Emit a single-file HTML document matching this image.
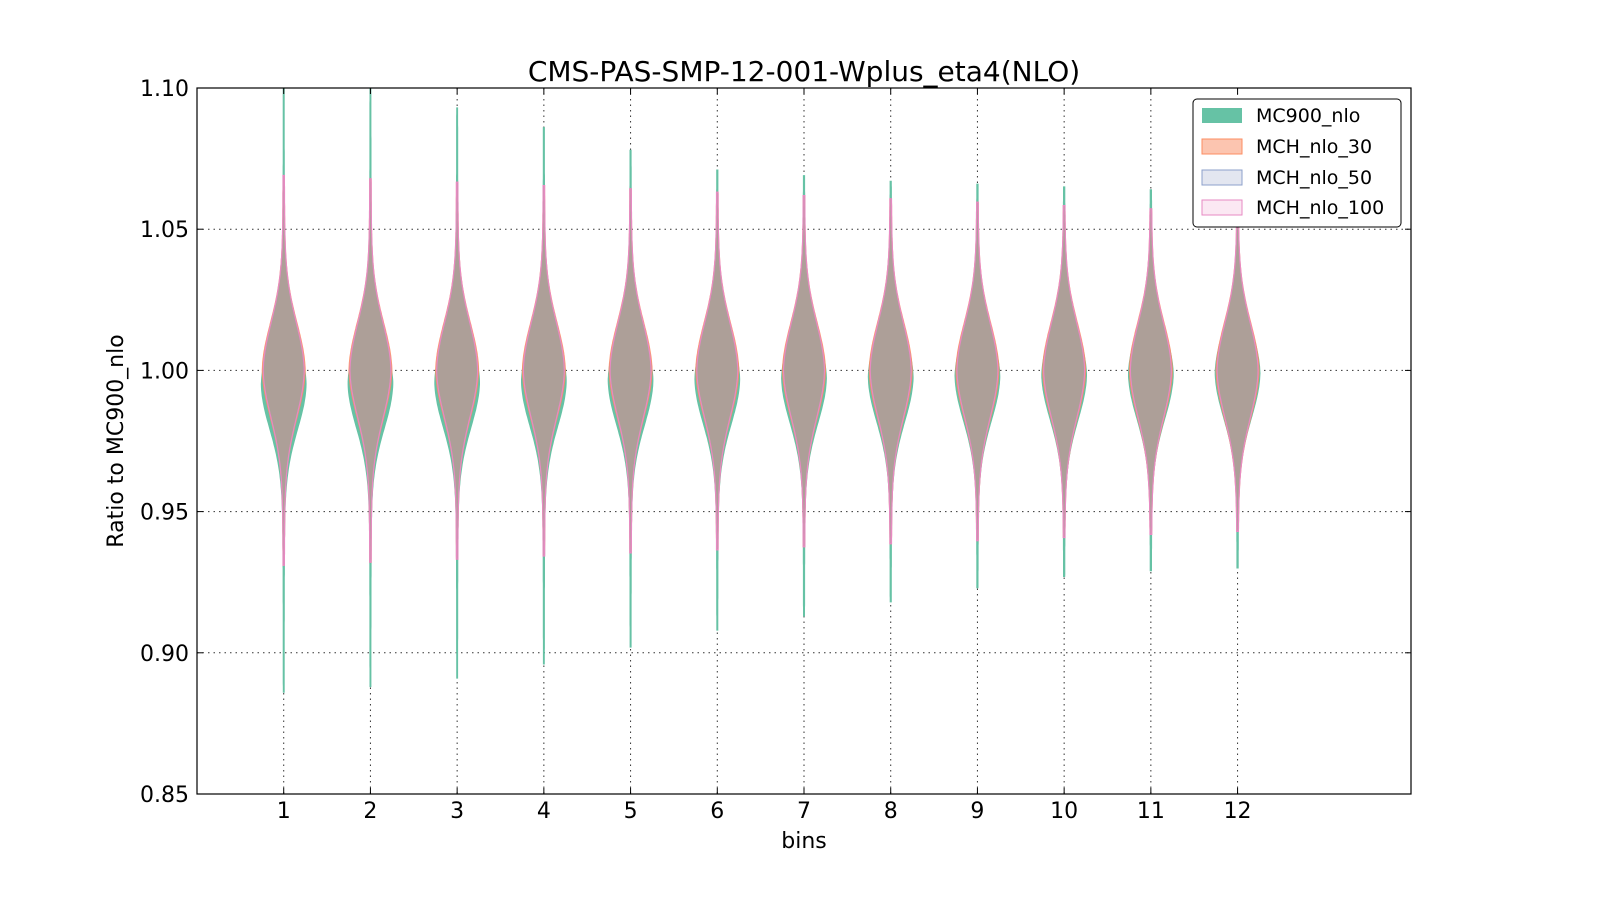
<!DOCTYPE html>
<html><head><meta charset="utf-8"><style>
html,body{margin:0;padding:0;background:#fff;overflow:hidden;width:1600px;height:900px;font-family:"Liberation Sans","DejaVu Sans",sans-serif;}
svg{display:block;}
</style></head><body>
<svg id="s" width="1600" height="900" xmlns="http://www.w3.org/2000/svg" font-family="DejaVu Sans, Liberation Sans, sans-serif">
<rect width="1600" height="900" fill="#fff"/>
<g id="grid" stroke="#000" stroke-dasharray="1.5,4" stroke-width="1" opacity="0.8"></g>
<g id="vio"></g>
<rect x="197" y="88" width="1214" height="706" fill="none" stroke="#000" stroke-width="1.2"/>
<g id="ticks" font-size="22" fill="#000"></g>
<text x="804" y="81" font-size="28" text-anchor="middle">CMS-PAS-SMP-12-001-Wplus_eta4(NLO)</text>
<text x="804" y="848" font-size="22" text-anchor="middle">bins</text>
<text transform="translate(123,441) rotate(-90)" font-size="22" text-anchor="middle">Ratio to MC900_nlo</text>
<g font-size="19">
<rect x="1193" y="99" width="208" height="128" rx="4" fill="#fff" stroke="#000" stroke-width="1"/>
<rect x="1202" y="108" width="40" height="15" fill="#66c2a5"/>
<text x="1256" y="122">MC900_nlo</text>
<rect x="1202" y="139" width="40" height="15" fill="#fcc5b0" stroke="#fc8d62"/>
<text x="1256" y="153">MCH_nlo_30</text>
<rect x="1202" y="170" width="40" height="15" fill="#e3e6f0" stroke="#8da0cb"/>
<text x="1256" y="184">MCH_nlo_50</text>
<rect x="1202" y="200" width="40" height="15" fill="#fbe8f3" stroke="#e78ac3"/>
<text x="1256" y="214">MCH_nlo_100</text>
</g>
</svg>
<script>
const NS="http://www.w3.org/2000/svg";
function X(v){return 197+v*1214/14;}
function Y(v){return 88+(1.10-v)*706/0.25;}
const g=document.getElementById('grid'),t=document.getElementById('ticks'),V=document.getElementById('vio');
function el(p,n,a,txt){const e=document.createElementNS(NS,n);for(const k in a)e.setAttribute(k,a[k]);if(txt)e.textContent=txt;p.appendChild(e);return e;}
for(let i=1;i<=12;i++){el(g,'line',{x1:X(i),x2:X(i),y1:88,y2:794});
el(t,'line',{x1:X(i),x2:X(i),y1:794,y2:788,stroke:'#000'});el(t,'line',{x1:X(i),x2:X(i),y1:88,y2:94,stroke:'#000'});
el(t,'text',{x:X(i),y:818,'text-anchor':'middle'},String(i));}
[0.85,0.90,0.95,1.00,1.05,1.10].forEach(v=>{if(v>0.86&&v<1.09)el(g,'line',{x1:197,x2:1411,y1:Y(v),y2:Y(v)});
el(t,'line',{x1:197,x2:203,y1:Y(v),y2:Y(v),stroke:'#000'});el(t,'line',{x1:1411,x2:1405,y1:Y(v),y2:Y(v),stroke:'#000'});
el(t,'text',{x:189,y:Y(v)+8,'text-anchor':'end'},v.toFixed(2));});
const gr=[[1.10,0.886],[1.10,0.888],[1.093,0.891],[1.086,0.896],[1.078,0.902],[1.071,0.908],[1.069,0.913],[1.067,0.918],[1.066,0.923],[1.065,0.927],[1.064,0.929],[1.05,0.930]];
function path(cx,c,s,W,hi,lo){let L=[],R=[];for(let k=0;k<=200;k++){const v=hi-(hi-lo)*k/200;const d=v-c;
const w=W*(0.9*Math.exp(-0.5*(d/s)*(d/s))+0.1*Math.exp(-Math.abs(d)/0.03))+0.5;L.push([cx-w,Y(v)]);R.push([cx+w,Y(v)]);}
return 'M'+L.map(p=>p[0].toFixed(1)+','+p[1].toFixed(1)).join('L')+'L'+R.reverse().map(p=>p[0].toFixed(1)+','+p[1].toFixed(1)).join('L')+'Z';}
for(let i=1;i<=12;i++){const cx=X(i);const [h,l]=gr[i-1];const f=(i-1)/11;
el(V,'path',{d:path(cx,0.995+0.004*f,0.016,22,h,l),fill:'#66c2a5',stroke:'#66c2a5','stroke-width':0.8});
const ph=1.069-0.013*f,pl=0.931+0.012*f;
el(V,'path',{d:path(cx,1.0,0.017,21,ph,pl),fill:'#fc8d62',stroke:'#fc8d62','stroke-width':1,opacity:0.9});
el(V,'path',{d:path(cx,1.0,0.017,20,ph,pl),fill:'#ad9f98',stroke:'#e78ac3','stroke-width':1.2});}
</script>
</body></html>
